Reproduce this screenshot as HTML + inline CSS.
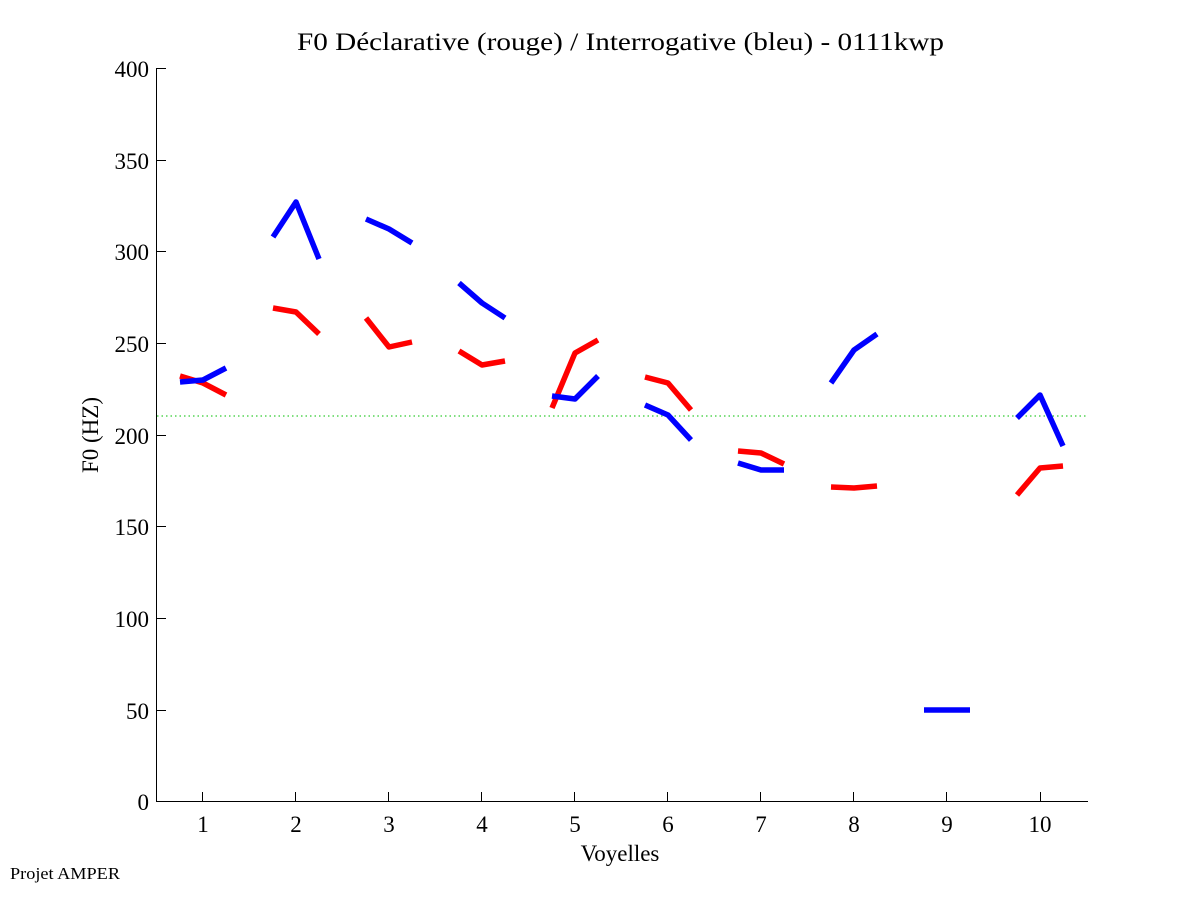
<!DOCTYPE html>
<html><head><meta charset="utf-8"><style>
html,body{margin:0;padding:0;background:#fff;}
svg{display:block;}
text{font-family:"Liberation Serif",serif;fill:#000;}
</style></head><body>
<svg width="1201" height="901" viewBox="0 0 1201 901" xmlns="http://www.w3.org/2000/svg">
<rect width="1201" height="901" fill="#fff"/>
<text x="620.5" y="50" font-size="25" text-anchor="middle" textLength="647" lengthAdjust="spacingAndGlyphs">F0 Déclarative (rouge) / Interrogative (bleu) - 0111kwp</text>
<!-- axes -->
<g stroke="#000" stroke-width="1" fill="none" shape-rendering="crispEdges">
<line x1="156.5" y1="68" x2="156.5" y2="802"/>
<line x1="156" y1="801.5" x2="1088" y2="801.5"/>
<line x1="156" y1="68.5" x2="166" y2="68.5"/>
<line x1="156" y1="160.5" x2="166" y2="160.5"/>
<line x1="156" y1="251.5" x2="166" y2="251.5"/>
<line x1="156" y1="343.5" x2="166" y2="343.5"/>
<line x1="156" y1="435.5" x2="166" y2="435.5"/>
<line x1="156" y1="526.5" x2="166" y2="526.5"/>
<line x1="156" y1="618.5" x2="166" y2="618.5"/>
<line x1="156" y1="710.5" x2="166" y2="710.5"/>
<line x1="202.5" y1="792" x2="202.5" y2="802"/>
<line x1="295.5" y1="792" x2="295.5" y2="802"/>
<line x1="388.5" y1="792" x2="388.5" y2="802"/>
<line x1="481.5" y1="792" x2="481.5" y2="802"/>
<line x1="574.5" y1="792" x2="574.5" y2="802"/>
<line x1="667.5" y1="792" x2="667.5" y2="802"/>
<line x1="760.5" y1="792" x2="760.5" y2="802"/>
<line x1="853.5" y1="792" x2="853.5" y2="802"/>
<line x1="946.5" y1="792" x2="946.5" y2="802"/>
<line x1="1040.5" y1="792" x2="1040.5" y2="802"/>
</g>
<g font-size="23" text-anchor="end">
<text x="149" y="77">400</text>
<text x="149" y="169">350</text>
<text x="149" y="260">300</text>
<text x="149" y="352">250</text>
<text x="149" y="444">200</text>
<text x="149" y="535">150</text>
<text x="149" y="627">100</text>
<text x="149" y="719">50</text>
<text x="149" y="810">0</text>
</g>
<g font-size="23" text-anchor="middle">
<text x="203" y="832">1</text>
<text x="296" y="832">2</text>
<text x="389" y="832">3</text>
<text x="482" y="832">4</text>
<text x="575" y="832">5</text>
<text x="668" y="832">6</text>
<text x="761" y="832">7</text>
<text x="854" y="832">8</text>
<text x="947" y="832">9</text>
<text x="1040" y="832">10</text>
</g>
<text x="620" y="861" font-size="23" text-anchor="middle">Voyelles</text>
<text transform="translate(98,435) rotate(-90)" font-size="23" text-anchor="middle">F0 (HZ)</text>
<text x="10" y="879" font-size="17" textLength="110" lengthAdjust="spacingAndGlyphs">Projet AMPER</text>
<!-- green reference -->
<line x1="157" y1="416" x2="1087" y2="416" stroke="#33cc33" stroke-width="1.2" stroke-dasharray="1.5 3"/>
<!-- red series -->
<g stroke="#ff0000" stroke-width="5.5" fill="none" stroke-linejoin="round" stroke-linecap="butt">
<polyline points="180,376 203,383 226,395"/>
<polyline points="273,308 296,312 319,334"/>
<polyline points="366,318 389,347 412,342"/>
<polyline points="459,351 482,365 505,361"/>
<polyline points="552,408 575,353 598,340"/>
<polyline points="645,377 668,383 691,410"/>
<polyline points="738,451 761,453 784,464"/>
<polyline points="831,487 854,488 877,486"/>
<polyline points="1017,495 1040,468 1063,466"/>
</g>
<!-- blue series -->
<g stroke="#0000ff" stroke-width="5.5" fill="none" stroke-linejoin="round" stroke-linecap="butt">
<polyline points="180,382 203,380 226,368"/>
<polyline points="273,237 296,202 319,259"/>
<polyline points="366,219 389,229 412,243"/>
<polyline points="459,283 482,303 505,318"/>
<polyline points="552,396 575,399 598,376"/>
<polyline points="645,405 668,415 691,440"/>
<polyline points="738,463 761,470 784,470"/>
<polyline points="831,383 854,350 877,334"/>
<polyline points="924,710 947,710 970,710"/>
<polyline points="1017,418 1040,395 1063,446"/>
</g>
</svg>
</body></html>
